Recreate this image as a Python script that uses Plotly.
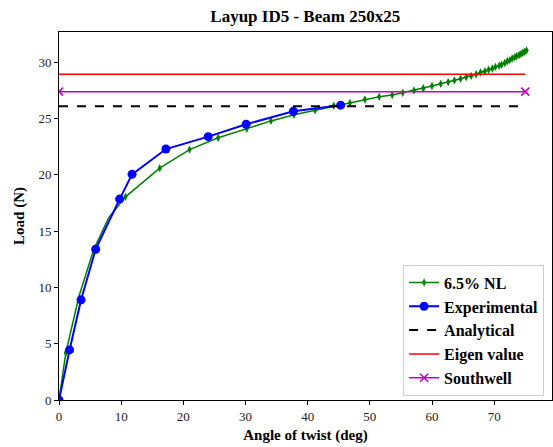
import plotly.graph_objects as go

# Data
nl_x = [0, 1.1, 3.2, 5.6, 8.0, 10.7, 16.2, 21.0, 25.6, 30.2, 34.1, 37.8, 41.2, 44.2, 46.8, 49.2, 51.5,
        53.6, 55.3, 57.1, 58.6, 60.0, 61.4, 62.6, 63.6, 64.6, 65.5, 66.3, 67.1, 67.8, 68.5, 69.1,
        69.7, 70.2, 70.8, 71.2, 71.7, 72.1, 72.5, 72.9, 73.3, 73.6, 74.0, 74.3, 74.6, 74.9, 75.2]
nl_y = [0, 4.2, 9.2, 13.4, 16.2, 18.05, 20.6, 22.25, 23.3, 24.1, 24.8, 25.35, 25.75, 26.15, 26.4, 26.7, 26.95,
        27.1, 27.3, 27.5, 27.7, 27.9, 28.1, 28.25, 28.4, 28.55, 28.7, 28.8, 28.95, 29.1, 29.2, 29.35,
        29.45, 29.6, 29.7, 29.8, 29.95, 30.1, 30.2, 30.35, 30.45, 30.55, 30.65, 30.75, 30.85, 30.95, 31.05]
# markers at the intermediate points are hidden under the experimental curve
nl_marker_shown = [1, 1, 0, 0, 0] + [1] * (len(nl_x) - 5)

exp_x = [0, 1.7, 3.55, 5.9, 9.75, 11.75, 17.2, 24.0, 30.1, 37.7, 45.3]
exp_y = [0, 4.45, 8.9, 13.4, 17.85, 20.05, 22.3, 23.4, 24.5, 25.65, 26.2]

line_x = [0, 75]
analytical = 26.1
eigen = 28.95
southwell = 27.4

serif = "Liberation Serif, Times New Roman, serif"

fig = go.Figure()
fig.add_trace(go.Scatter(x=nl_x, y=nl_y, mode="lines+markers", name="6.5% NL",
                         line=dict(color="#008000", width=1.5),
                         marker=dict(symbol="diamond-tall", size=6, color="#008000",
                                     opacity=[float(s) for s in nl_marker_shown])))
fig.add_trace(go.Scatter(x=exp_x, y=exp_y, mode="lines+markers", name="Experimental",
                         line=dict(color="#0000ff", width=2),
                         marker=dict(symbol="circle", size=9, color="#0000ff")))
fig.add_trace(go.Scatter(x=line_x, y=[analytical] * 2, mode="lines", name="Analytical",
                         line=dict(color="black", width=2, dash="dash")))
fig.add_trace(go.Scatter(x=line_x, y=[eigen] * 2, mode="lines", name="Eigen value",
                         line=dict(color="#ff0000", width=1.5)))
fig.add_trace(go.Scatter(x=line_x, y=[southwell] * 2, mode="lines+markers", name="Southwell",
                         line=dict(color="#bf00bf", width=1.5),
                         marker=dict(symbol="x-thin", size=8, color="#bf00bf",
                                     line=dict(color="#bf00bf", width=1.5))))

axis_common = dict(showline=True, linecolor="black", linewidth=1, mirror=True,
                   ticks="outside", ticklen=4, tickcolor="black", showgrid=False,
                   zeroline=False, tickfont=dict(family=serif, size=13, color="#222"))

fig.update_layout(
    width=553, height=447,
    margin=dict(l=59, r=1, t=32, b=47),
    paper_bgcolor="white", plot_bgcolor="white",
    title=dict(text="<b>Layup ID5 - Beam 250x25</b>", x=0.552, xanchor="center",
               y=0.965, yanchor="middle",
               font=dict(family=serif, size=17, color="black")),
    xaxis=dict(range=[0, 79.3], tickvals=[0, 10, 20, 30, 40, 50, 60, 70],
               title=dict(text="<b>Angle of twist (deg)</b>", standoff=6,
                          font=dict(family=serif, size=15, color="black")),
               **axis_common),
    yaxis=dict(range=[0, 32.7], tickvals=[0, 5, 10, 15, 20, 25, 30],
               title=dict(text="<b>Load (N)</b>", standoff=10,
                          font=dict(family=serif, size=15, color="black")),
               **axis_common),
    legend=dict(x=0.984, y=0.012, xanchor="right", yanchor="bottom",
                bgcolor="white", bordercolor="#cccccc", borderwidth=1,
                font=dict(family=serif, size=16, color="black"),
                itemwidth=30, tracegroupgap=0),
    showlegend=True,
)
# bold legend names
for tr in fig.data:
    tr.name = "<b>" + tr.name + "</b>"

fig.write_html("out.html")
